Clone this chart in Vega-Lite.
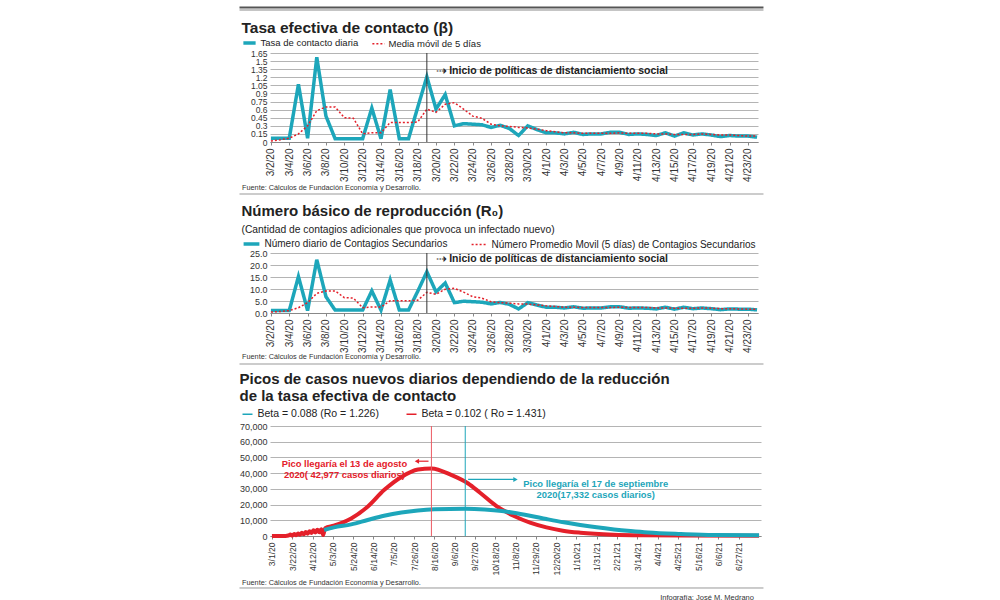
{
  "$schema": "https://vega.github.io/schema/vega-lite/v6.json",
  "background": "white",
  "padding": {"left": 238, "top": 5, "right": 5, "bottom": 0},
  "spacing": 1,
  "resolve": {
    "scale": {"x": "independent", "y": "independent", "color": "independent", "strokeDash": "independent", "strokeWidth": "independent"},
    "legend": {"color": "independent", "strokeDash": "independent", "strokeWidth": "independent"}
  },
  "datasets": {
    "diario": [
      {"fecha":"3/2/20","beta":0.07,"betaMM":0.02,"r0":1.0,"r0MM":0.4},
      {"fecha":"3/3/20","beta":0.07,"betaMM":0.04,"r0":1.0,"r0MM":0.6},
      {"fecha":"3/4/20","beta":0.07,"betaMM":0.07,"r0":1.0,"r0MM":1.0},
      {"fecha":"3/5/20","beta":1.07,"betaMM":0.15,"r0":15.2,"r0MM":2.2},
      {"fecha":"3/6/20","beta":0.07,"betaMM":0.30,"r0":1.0,"r0MM":4.3},
      {"fecha":"3/7/20","beta":1.57,"betaMM":0.58,"r0":22.2,"r0MM":8.2},
      {"fecha":"3/8/20","beta":0.48,"betaMM":0.65,"r0":6.8,"r0MM":9.2},
      {"fecha":"3/9/20","beta":0.06,"betaMM":0.65,"r0":1.2,"r0MM":9.2},
      {"fecha":"3/10/20","beta":0.06,"betaMM":0.45,"r0":1.2,"r0MM":6.4},
      {"fecha":"3/11/20","beta":0.06,"betaMM":0.44,"r0":1.2,"r0MM":6.2},
      {"fecha":"3/12/20","beta":0.06,"betaMM":0.15,"r0":1.2,"r0MM":2.2},
      {"fecha":"3/13/20","beta":0.63,"betaMM":0.17,"r0":9.2,"r0MM":2.5},
      {"fecha":"3/14/20","beta":0.06,"betaMM":0.17,"r0":1.2,"r0MM":2.5},
      {"fecha":"3/15/20","beta":0.97,"betaMM":0.36,"r0":13.8,"r0MM":5.1},
      {"fecha":"3/16/20","beta":0.06,"betaMM":0.36,"r0":1.2,"r0MM":5.1},
      {"fecha":"3/17/20","beta":0.06,"betaMM":0.36,"r0":1.2,"r0MM":5.1},
      {"fecha":"3/18/20","beta":0.64,"betaMM":0.37,"r0":9.0,"r0MM":5.3},
      {"fecha":"3/19/20","beta":1.21,"betaMM":0.61,"r0":17.2,"r0MM":8.6},
      {"fecha":"3/20/20","beta":0.61,"betaMM":0.55,"r0":8.8,"r0MM":7.8},
      {"fecha":"3/21/20","beta":0.88,"betaMM":0.70,"r0":12.5,"r0MM":9.9},
      {"fecha":"3/22/20","beta":0.30,"betaMM":0.73,"r0":4.3,"r0MM":10.3},
      {"fecha":"3/23/20","beta":0.34,"betaMM":0.61,"r0":4.9,"r0MM":8.7},
      {"fecha":"3/24/20","beta":0.33,"betaMM":0.48,"r0":4.7,"r0MM":6.8},
      {"fecha":"3/25/20","beta":0.32,"betaMM":0.44,"r0":4.5,"r0MM":6.2},
      {"fecha":"3/26/20","beta":0.27,"betaMM":0.33,"r0":3.8,"r0MM":4.7},
      {"fecha":"3/27/20","beta":0.31,"betaMM":0.30,"r0":4.4,"r0MM":4.3},
      {"fecha":"3/28/20","beta":0.25,"betaMM":0.29,"r0":3.6,"r0MM":4.1},
      {"fecha":"3/29/20","beta":0.12,"betaMM":0.27,"r0":1.7,"r0MM":3.8},
      {"fecha":"3/30/20","beta":0.30,"betaMM":0.26,"r0":4.3,"r0MM":3.7},
      {"fecha":"3/31/20","beta":0.23,"betaMM":0.24,"r0":3.3,"r0MM":3.4},
      {"fecha":"4/1/20","beta":0.17,"betaMM":0.21,"r0":2.4,"r0MM":3.0},
      {"fecha":"4/2/20","beta":0.17,"betaMM":0.19,"r0":2.4,"r0MM":2.7},
      {"fecha":"4/3/20","beta":0.15,"betaMM":0.17,"r0":2.1,"r0MM":2.4},
      {"fecha":"4/4/20","beta":0.18,"betaMM":0.17,"r0":2.6,"r0MM":2.4},
      {"fecha":"4/5/20","beta":0.14,"betaMM":0.16,"r0":2.0,"r0MM":2.3},
      {"fecha":"4/6/20","beta":0.15,"betaMM":0.16,"r0":2.1,"r0MM":2.3},
      {"fecha":"4/7/20","beta":0.15,"betaMM":0.16,"r0":2.1,"r0MM":2.3},
      {"fecha":"4/8/20","beta":0.18,"betaMM":0.16,"r0":2.6,"r0MM":2.3},
      {"fecha":"4/9/20","beta":0.18,"betaMM":0.17,"r0":2.6,"r0MM":2.4},
      {"fecha":"4/10/20","beta":0.14,"betaMM":0.16,"r0":2.0,"r0MM":2.3},
      {"fecha":"4/11/20","beta":0.15,"betaMM":0.16,"r0":2.1,"r0MM":2.3},
      {"fecha":"4/12/20","beta":0.14,"betaMM":0.16,"r0":2.0,"r0MM":2.3},
      {"fecha":"4/13/20","beta":0.12,"betaMM":0.15,"r0":1.7,"r0MM":2.1},
      {"fecha":"4/14/20","beta":0.17,"betaMM":0.15,"r0":2.4,"r0MM":2.1},
      {"fecha":"4/15/20","beta":0.11,"betaMM":0.14,"r0":1.6,"r0MM":2.0},
      {"fecha":"4/16/20","beta":0.17,"betaMM":0.14,"r0":2.4,"r0MM":2.0},
      {"fecha":"4/17/20","beta":0.13,"betaMM":0.14,"r0":1.8,"r0MM":2.0},
      {"fecha":"4/18/20","beta":0.15,"betaMM":0.15,"r0":2.1,"r0MM":2.1},
      {"fecha":"4/19/20","beta":0.13,"betaMM":0.14,"r0":1.8,"r0MM":2.0},
      {"fecha":"4/20/20","beta":0.10,"betaMM":0.13,"r0":1.4,"r0MM":1.8},
      {"fecha":"4/21/20","beta":0.12,"betaMM":0.13,"r0":1.7,"r0MM":1.8},
      {"fecha":"4/22/20","beta":0.11,"betaMM":0.12,"r0":1.6,"r0MM":1.7},
      {"fecha":"4/23/20","beta":0.11,"betaMM":0.11,"r0":1.6,"r0MM":1.6},
      {"fecha":"4/24/20","beta":0.09,"betaMM":0.11,"r0":1.3,"r0MM":1.6}
    ],
    "proy": [
      {"fecha":"2020-03-01","serie":"b102","casos":0},
      {"fecha":"2020-03-08","serie":"b102","casos":0},
      {"fecha":"2020-03-15","serie":"b102","casos":50},
      {"fecha":"2020-03-18","serie":"b102","casos":300},
      {"fecha":"2020-03-20","serie":"b102","casos":900},
      {"fecha":"2020-03-22","serie":"b102","casos":300},
      {"fecha":"2020-03-24","serie":"b102","casos":1300},
      {"fecha":"2020-03-26","serie":"b102","casos":500},
      {"fecha":"2020-03-28","serie":"b102","casos":1600},
      {"fecha":"2020-03-30","serie":"b102","casos":800},
      {"fecha":"2020-04-01","serie":"b102","casos":2100},
      {"fecha":"2020-04-03","serie":"b102","casos":1100},
      {"fecha":"2020-04-05","serie":"b102","casos":2600},
      {"fecha":"2020-04-07","serie":"b102","casos":1500},
      {"fecha":"2020-04-09","serie":"b102","casos":3100},
      {"fecha":"2020-04-11","serie":"b102","casos":1900},
      {"fecha":"2020-04-13","serie":"b102","casos":3600},
      {"fecha":"2020-04-15","serie":"b102","casos":2200},
      {"fecha":"2020-04-17","serie":"b102","casos":3900},
      {"fecha":"2020-04-19","serie":"b102","casos":2400},
      {"fecha":"2020-04-21","serie":"b102","casos":4300},
      {"fecha":"2020-04-23","serie":"b102","casos":600},
      {"fecha":"2020-04-25","serie":"b102","casos":5000},
      {"fecha":"2020-05-04","serie":"b102","casos":6600},
      {"fecha":"2020-05-22","serie":"b102","casos":11200},
      {"fecha":"2020-06-08","serie":"b102","casos":18600},
      {"fecha":"2020-06-25","serie":"b102","casos":29200},
      {"fecha":"2020-07-13","serie":"b102","casos":37600},
      {"fecha":"2020-07-30","serie":"b102","casos":42300},
      {"fecha":"2020-08-13","serie":"b102","casos":42977},
      {"fecha":"2020-09-03","serie":"b102","casos":38700},
      {"fecha":"2020-09-20","serie":"b102","casos":33400},
      {"fecha":"2020-10-02","serie":"b102","casos":27700},
      {"fecha":"2020-10-19","serie":"b102","casos":19200},
      {"fecha":"2020-11-06","serie":"b102","casos":12900},
      {"fecha":"2020-11-23","serie":"b102","casos":8500},
      {"fecha":"2020-12-10","serie":"b102","casos":5500},
      {"fecha":"2020-12-27","serie":"b102","casos":3400},
      {"fecha":"2021-01-14","serie":"b102","casos":2100},
      {"fecha":"2021-02-17","serie":"b102","casos":800},
      {"fecha":"2021-03-20","serie":"b102","casos":400},
      {"fecha":"2021-05-01","serie":"b102","casos":250},
      {"fecha":"2021-07-18","serie":"b102","casos":200},
      {"fecha":"2020-04-24","serie":"b088","casos":3800},
      {"fecha":"2020-05-04","serie":"b088","casos":5500},
      {"fecha":"2020-05-22","serie":"b088","casos":7400},
      {"fecha":"2020-06-08","serie":"b088","casos":10200},
      {"fecha":"2020-06-25","serie":"b088","casos":12900},
      {"fecha":"2020-07-13","serie":"b088","casos":15000},
      {"fecha":"2020-07-30","serie":"b088","casos":16300},
      {"fecha":"2020-08-16","serie":"b088","casos":17000},
      {"fecha":"2020-09-17","serie":"b088","casos":17332},
      {"fecha":"2020-10-07","serie":"b088","casos":16900},
      {"fecha":"2020-10-25","serie":"b088","casos":15900},
      {"fecha":"2020-11-06","serie":"b088","casos":14800},
      {"fecha":"2020-11-23","serie":"b088","casos":12900},
      {"fecha":"2020-12-10","serie":"b088","casos":10800},
      {"fecha":"2020-12-28","serie":"b088","casos":8700},
      {"fecha":"2021-01-14","serie":"b088","casos":7000},
      {"fecha":"2021-01-31","serie":"b088","casos":5500},
      {"fecha":"2021-02-18","serie":"b088","casos":4200},
      {"fecha":"2021-03-07","serie":"b088","casos":3200},
      {"fecha":"2021-03-25","serie":"b088","casos":2300},
      {"fecha":"2021-04-28","serie":"b088","casos":1300},
      {"fecha":"2021-06-01","serie":"b088","casos":600},
      {"fecha":"2021-07-18","serie":"b088","casos":400}
    ]
  },
  "vconcat": [
    {
      "width": 492, "height": 14,
      "data": {"values": [{}]},
      "layer": [
        {"mark": {"type": "rule", "color": "#555", "strokeWidth": 2},
         "encoding": {"x": {"datum": -0.062, "type": "quantitative", "scale": {"domain": [0, 1]}, "axis": null}, "x2": {"datum": 1.003}, "y": {"datum": 0.82, "type": "quantitative", "scale": {"domain": [0, 1]}, "axis": null}}},
        {"mark": {"type": "rule", "color": "#888", "strokeWidth": 1},
         "encoding": {"x": {"datum": -0.062, "type": "quantitative"}, "x2": {"datum": 1.003}, "y": {"datum": 0.643, "type": "quantitative"}}}
      ]
    },
    {
      "width": 488, "height": 89,
      "title": {"text": "Tasa efectiva de contacto (β)", "offset": -1, "fontSize": 15.5},
      "data": {"name": "diario"},
      "layer": [
        {
          "transform": [{"fold": ["beta", "betaMM"], "as": ["serie", "valor"]}],
          "mark": {"type": "line"},
          "encoding": {
            "x": {"field": "fecha", "type": "ordinal",
                  "scale": {"type": "point", "padding": 0.1, "domain": ["3/2/20","3/3/20","3/4/20","3/5/20","3/6/20","3/7/20","3/8/20","3/9/20","3/10/20","3/11/20","3/12/20","3/13/20","3/14/20","3/15/20","3/16/20","3/17/20","3/18/20","3/19/20","3/20/20","3/21/20","3/22/20","3/23/20","3/24/20","3/25/20","3/26/20","3/27/20","3/28/20","3/29/20","3/30/20","3/31/20","4/1/20","4/2/20","4/3/20","4/4/20","4/5/20","4/6/20","4/7/20","4/8/20","4/9/20","4/10/20","4/11/20","4/12/20","4/13/20","4/14/20","4/15/20","4/16/20","4/17/20","4/18/20","4/19/20","4/20/20","4/21/20","4/22/20","4/23/20","4/24/20"]},
                  "axis": {"values": ["3/2/20","3/4/20","3/6/20","3/8/20","3/10/20","3/12/20","3/14/20","3/16/20","3/18/20","3/20/20","3/22/20","3/24/20","3/26/20","3/28/20","3/30/20","4/1/20","4/3/20","4/5/20","4/7/20","4/9/20","4/11/20","4/13/20","4/15/20","4/17/20","4/19/20","4/21/20","4/23/20"],
                           "labelAngle": 270, "labelFontSize": 10, "grid": false, "labelOverlap": false,
                           "title": "Fuente: Cálculos de Fundación Economía y Desarrollo.",
                           "titleX": -28.5, "titleY": 47, "titleAlign": "left", "titleBaseline": "alphabetic", "titleAnchor": "start"}},
            "y": {"field": "valor", "type": "quantitative", "scale": {"domain": [0, 1.65], "nice": false},
                  "axis": {"values": [0,0.15,0.3,0.45,0.6,0.75,0.9,1.05,1.2,1.35,1.5,1.65], "tickCount": 40, "format": ".2~f", "labelFontSize": 8.5, "title": null, "grid": true, "labelOverlap": false, "labelAngle": 0}},
            "color": {"field": "serie", "type": "nominal",
                      "scale": {"domain": ["beta", "betaMM"], "range": ["#1DA6BA", "#E4202A"]},
                      "legend": {"orient": "none", "legendX": -28.5, "legendY": -18, "direction": "horizontal", "title": null,
                                 "symbolType": "stroke", "symbolSize": 150, "labelFontSize": 9.5, "columnPadding": 10, "labelOffset": 3,
                                 "labelExpr": "datum.label == 'beta' ? 'Tasa de contacto diaria' : 'Media móvil de 5 días'",
                                 "encode": {"symbols": {"update": {"strokeDash": {"signal": "datum.value == 'betaMM' ? [2, 2] : [1, 0]"}, "strokeWidth": {"signal": "datum.value == 'betaMM' ? 1.5 : 4"}}}}}},
            "strokeDash": {"field": "serie", "type": "nominal", "scale": {"domain": ["beta", "betaMM"], "range": [[1, 0], [2, 2]]}, "legend": null},
            "strokeWidth": {"field": "serie", "type": "nominal", "scale": {"domain": ["beta", "betaMM"], "range": [3.5, 1.5]}, "legend": null}
          }
        },
        {
          "transform": [{"filter": "datum.fecha == '3/19/20'"}],
          "mark": {"type": "rule", "color": "#333", "strokeWidth": 1},
          "encoding": {"x": {"field": "fecha", "type": "ordinal"}}
        },
        {
          "transform": [{"filter": "datum.fecha == '3/20/20'"}],
          "mark": {"type": "text", "text": "⇢", "align": "left", "baseline": "middle", "fontSize": 13, "dx": 0, "color": "#222"},
          "encoding": {"x": {"field": "fecha", "type": "ordinal"}, "y": {"datum": 1.315, "type": "quantitative"}}
        },
        {
          "transform": [{"filter": "datum.fecha == '3/21/20'"}],
          "mark": {"type": "text", "text": "Inicio de políticas de distanciamiento social", "align": "left", "baseline": "middle", "fontSize": 10.5, "fontWeight": "bold", "dx": 4, "color": "#222"},
          "encoding": {"x": {"field": "fecha", "type": "ordinal"}, "y": {"datum": 1.315, "type": "quantitative"}}
        }
      ]
    },
    {
      "width": 492, "height": 10,
      "data": {"values": [{}]},
      "mark": {"type": "rule", "color": "#999", "strokeWidth": 1},
      "encoding": {"x": {"datum": -0.062, "type": "quantitative", "scale": {"domain": [0, 1]}, "axis": null}, "x2": {"datum": 1.003}, "y": {"datum": 0.8, "type": "quantitative", "scale": {"domain": [0, 1]}, "axis": null}}
    },
    {
      "width": 488, "height": 60,
      "title": {"text": "Número básico de reproducción (R₀)", "subtitle": "(Cantidad de contagios adicionales que provoca un infectado nuevo)", "offset": -1, "subtitlePadding": 6},
      "data": {"name": "diario"},
      "layer": [
        {
          "transform": [{"fold": ["r0", "r0MM"], "as": ["serie", "valor"]}],
          "mark": {"type": "line"},
          "encoding": {
            "x": {"field": "fecha", "type": "ordinal",
                  "scale": {"type": "point", "padding": 0.1, "domain": ["3/2/20","3/3/20","3/4/20","3/5/20","3/6/20","3/7/20","3/8/20","3/9/20","3/10/20","3/11/20","3/12/20","3/13/20","3/14/20","3/15/20","3/16/20","3/17/20","3/18/20","3/19/20","3/20/20","3/21/20","3/22/20","3/23/20","3/24/20","3/25/20","3/26/20","3/27/20","3/28/20","3/29/20","3/30/20","3/31/20","4/1/20","4/2/20","4/3/20","4/4/20","4/5/20","4/6/20","4/7/20","4/8/20","4/9/20","4/10/20","4/11/20","4/12/20","4/13/20","4/14/20","4/15/20","4/16/20","4/17/20","4/18/20","4/19/20","4/20/20","4/21/20","4/22/20","4/23/20","4/24/20"]},
                  "axis": {"values": ["3/2/20","3/4/20","3/6/20","3/8/20","3/10/20","3/12/20","3/14/20","3/16/20","3/18/20","3/20/20","3/22/20","3/24/20","3/26/20","3/28/20","3/30/20","4/1/20","4/3/20","4/5/20","4/7/20","4/9/20","4/11/20","4/13/20","4/15/20","4/17/20","4/19/20","4/21/20","4/23/20"],
                           "labelAngle": 270, "labelFontSize": 10, "grid": false, "labelOverlap": false,
                           "title": "Fuente: Cálculos de Fundación Economía y Desarrollo.",
                           "titleX": -28.5, "titleY": 45, "titleAlign": "left", "titleBaseline": "alphabetic", "titleAnchor": "start"}},
            "y": {"field": "valor", "type": "quantitative", "scale": {"domain": [0, 25], "nice": false},
                  "axis": {"values": [0, 5, 10, 15, 20, 25], "tickCount": 40, "labelFontSize": 9, "title": null, "grid": true, "labelOverlap": false, "labelAngle": 0}},
            "color": {"field": "serie", "type": "nominal",
                      "scale": {"domain": ["r0", "r0MM"], "range": ["#1DA6BA", "#E4202A"]},
                      "legend": {"orient": "none", "legendX": -28.5, "legendY": -19, "direction": "horizontal", "title": null,
                                 "symbolType": "stroke", "symbolSize": 250, "labelFontSize": 10, "columnPadding": 18, "labelOffset": 3,
                                 "labelExpr": "datum.label == 'r0' ? 'Número  diario de Contagios Secundarios' : 'Número Promedio Movil (5 días) de Contagios Secundarios'",
                                 "encode": {"symbols": {"update": {"strokeDash": {"signal": "datum.value == 'r0MM' ? [2, 2] : [1, 0]"}, "strokeWidth": {"signal": "datum.value == 'r0MM' ? 1.5 : 4"}}}}}},
            "strokeDash": {"field": "serie", "type": "nominal", "scale": {"domain": ["r0", "r0MM"], "range": [[1, 0], [2, 2]]}, "legend": null},
            "strokeWidth": {"field": "serie", "type": "nominal", "scale": {"domain": ["r0", "r0MM"], "range": [3.5, 1.5]}, "legend": null}
          }
        },
        {
          "transform": [{"filter": "datum.fecha == '3/19/20'"}],
          "mark": {"type": "rule", "color": "#333", "strokeWidth": 1},
          "encoding": {"x": {"field": "fecha", "type": "ordinal"}}
        },
        {
          "transform": [{"filter": "datum.fecha == '3/20/20'"}],
          "mark": {"type": "text", "text": "⇢", "align": "left", "baseline": "middle", "fontSize": 13, "dx": 0, "color": "#222"},
          "encoding": {"x": {"field": "fecha", "type": "ordinal"}, "y": {"datum": 22.3, "type": "quantitative"}}
        },
        {
          "transform": [{"filter": "datum.fecha == '3/21/20'"}],
          "mark": {"type": "text", "text": "Inicio de políticas de distanciamiento social", "align": "left", "baseline": "middle", "fontSize": 10.5, "fontWeight": "bold", "dx": 4, "color": "#222"},
          "encoding": {"x": {"field": "fecha", "type": "ordinal"}, "y": {"datum": 22.3, "type": "quantitative"}}
        }
      ]
    },
    {
      "width": 492, "height": 10,
      "data": {"values": [{}]},
      "mark": {"type": "rule", "color": "#999", "strokeWidth": 1},
      "encoding": {"x": {"datum": -0.062, "type": "quantitative", "scale": {"domain": [0, 1]}, "axis": null}, "x2": {"datum": 1.003}, "y": {"datum": 0.7, "type": "quantitative", "scale": {"domain": [0, 1]}, "axis": null}}
    },
    {
      "width": 491, "height": 110,
      "title": {"text": ["Picos de casos nuevos diarios dependiendo de la reducción", "de la tasa efectiva de contacto"], "lineHeight": 17, "offset": 4},
      "layer": [
        {
          "data": {"name": "proy"},
          "mark": {"type": "line", "interpolate": "monotone", "strokeWidth": 4},
          "encoding": {
            "x": {"field": "fecha", "type": "temporal",
                  "scale": {"domain": [{"year": 2020, "month": 2, "date": 28}, {"year": 2021, "month": 7, "date": 20}]},
                  "axis": {"values": [
                    {"year":2020,"month":3,"date":1},{"year":2020,"month":3,"date":22},{"year":2020,"month":4,"date":12},{"year":2020,"month":5,"date":3},
                    {"year":2020,"month":5,"date":24},{"year":2020,"month":6,"date":14},{"year":2020,"month":7,"date":5},{"year":2020,"month":7,"date":26},
                    {"year":2020,"month":8,"date":16},{"year":2020,"month":9,"date":6},{"year":2020,"month":9,"date":27},{"year":2020,"month":10,"date":18},
                    {"year":2020,"month":11,"date":8},{"year":2020,"month":11,"date":29},{"year":2020,"month":12,"date":20},{"year":2021,"month":1,"date":10},
                    {"year":2021,"month":1,"date":31},{"year":2021,"month":2,"date":21},{"year":2021,"month":3,"date":14},{"year":2021,"month":4,"date":4},
                    {"year":2021,"month":4,"date":25},{"year":2021,"month":5,"date":16},{"year":2021,"month":6,"date":6},{"year":2021,"month":6,"date":27}],
                           "tickCount": 60, "format": "%-m/%-d/%y", "labelAngle": 270, "labelFontSize": 8.5, "grid": false, "labelOverlap": false,
                           "title": "Fuente: Cálculos de Fundación Economía y Desarrollo.",
                           "titleX": -28.5, "titleY": 48, "titleAlign": "left", "titleBaseline": "alphabetic", "titleAnchor": "start"}},
            "y": {"field": "casos", "type": "quantitative", "scale": {"domain": [0, 70000], "nice": false},
                  "axis": {"values": [0,10000,20000,30000,40000,50000,60000,70000], "tickCount": 40, "format": ",d", "labelFontSize": 9, "title": null, "grid": true, "labelOverlap": false, "labelAngle": 0}},
            "color": {"field": "serie", "type": "nominal",
                      "scale": {"domain": ["b088", "b102"], "range": ["#1DA6BA", "#E4202A"]},
                      "legend": {"orient": "none", "legendX": -28.5, "legendY": -18, "direction": "horizontal", "title": null,
                                 "symbolType": "stroke", "symbolSize": 100, "labelFontSize": 10.5, "columnPadding": 24, "labelOffset": 4,
                                 "labelExpr": "datum.label == 'b088' ? 'Beta = 0.088 (Ro = 1.226)' : 'Beta = 0.102 ( Ro = 1.431)'",
                                 "encode": {"symbols": {"update": {"strokeDash": {"signal": "datum.value == 'b102' ? [2, 2] : [1, 0]"}, "strokeWidth": {"signal": "datum.value == 'b102' ? 1.5 : 4"}}}}}}
          }
        },
        {
          "data": {"values": [{}]},
          "mark": {"type": "rule", "color": "#EC5A62", "strokeWidth": 1},
          "encoding": {"x": {"datum": {"year": 2020, "month": 8, "date": 13}, "type": "temporal"}}
        },
        {
          "data": {"values": [{}]},
          "mark": {"type": "rule", "color": "#1DA6BA", "strokeWidth": 1},
          "encoding": {"x": {"datum": {"year": 2020, "month": 9, "date": 17}, "type": "temporal"}}
        },
        {
          "data": {"values": [{}]},
          "mark": {"type": "text", "text": ["Pico llegaría el 13 de agosto", "2020( 42,977 casos diarios)"], "align": "center", "baseline": "middle", "fontSize": 9.4, "fontWeight": "bold", "lineHeight": 11, "color": "#E4202A"},
          "encoding": {"x": {"datum": {"year": 2020, "month": 5, "date": 15}, "type": "temporal"}, "y": {"datum": 45800, "type": "quantitative"}}
        },
        {
          "data": {"values": [{}]},
          "mark": {"type": "rule", "color": "#E4202A", "strokeWidth": 1.2},
          "encoding": {"x": {"datum": {"year": 2020, "month": 7, "date": 29}, "type": "temporal"}, "x2": {"datum": {"year": 2020, "month": 8, "date": 10}}, "y": {"datum": 47600, "type": "quantitative"}}
        },
        {
          "data": {"values": [{}]},
          "mark": {"type": "point", "shape": "triangle-left", "filled": true, "size": 25, "color": "#E4202A", "opacity": 1},
          "encoding": {"x": {"datum": {"year": 2020, "month": 7, "date": 29}, "type": "temporal"}, "y": {"datum": 47600, "type": "quantitative"}}
        },
        {
          "data": {"values": [{}]},
          "mark": {"type": "text", "text": ["Pico llegaría el 17 de septiembre", "2020(17,332 casos diarios)"], "align": "center", "baseline": "middle", "fontSize": 9.4, "fontWeight": "bold", "lineHeight": 11, "color": "#1DA6BA"},
          "encoding": {"x": {"datum": {"year": 2021, "month": 1, "date": 30}, "type": "temporal"}, "y": {"datum": 32800, "type": "quantitative"}}
        },
        {
          "data": {"values": [{}]},
          "mark": {"type": "rule", "color": "#1DA6BA", "strokeWidth": 1.2},
          "encoding": {"x": {"datum": {"year": 2020, "month": 9, "date": 20}, "type": "temporal"}, "x2": {"datum": {"year": 2020, "month": 11, "date": 7}}, "y": {"datum": 36000, "type": "quantitative"}}
        },
        {
          "data": {"values": [{}]},
          "mark": {"type": "point", "shape": "triangle-right", "filled": true, "size": 25, "color": "#1DA6BA", "opacity": 1},
          "encoding": {"x": {"datum": {"year": 2020, "month": 11, "date": 8}, "type": "temporal"}, "y": {"datum": 36000, "type": "quantitative"}}
        }
      ]
    },
    {
      "width": 492, "height": 3,
      "title": {"text": "Infografía: José M. Medrano", "orient": "bottom", "anchor": "end", "fontSize": 7.5, "fontWeight": "normal", "color": "#333", "offset": 4, "dx": -10},
      "data": {"values": [{}]},
      "mark": {"type": "rule", "color": "#999", "strokeWidth": 1},
      "encoding": {"x": {"datum": -0.062, "type": "quantitative", "scale": {"domain": [0, 1]}, "axis": null}, "x2": {"datum": 1.003}, "y": {"datum": 0.67, "type": "quantitative", "scale": {"domain": [0, 1]}, "axis": null}}
    }
  ],
  "config": {
    "font": "Liberation Sans, Arial, sans-serif",
    "view": {"stroke": null},
    "title": {"anchor": "start", "frame": "bounds", "fontSize": 15, "fontWeight": "bold", "color": "#222", "subtitleFontSize": 10.3, "subtitleColor": "#222", "subtitlePadding": 3},
    "axis": {"labelColor": "#333", "gridColor": "#b4b4b4", "gridWidth": 1, "gridOpacity": 1, "domainColor": "#888", "tickColor": "#888", "tickSize": 3, "titleFontSize": 7.3, "titleFontWeight": "normal", "titleColor": "#333"},
    "axisY": {"domain": false, "ticks": false, "labelPadding": 3, "grid": true},
    "axisX": {"labelPadding": 3},
    "legend": {"labelColor": "#222", "labelLimit": 400},
    "line": {"strokeJoin": "miter"}
  }
}
